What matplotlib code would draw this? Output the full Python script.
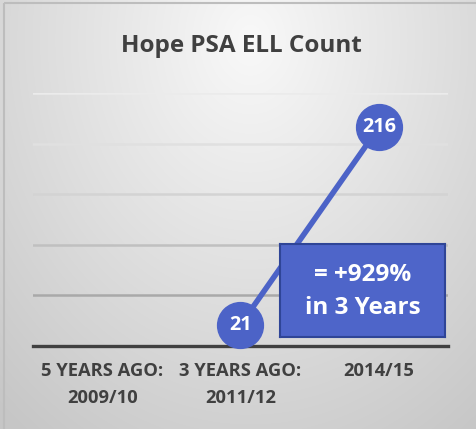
import numpy as np
import matplotlib
matplotlib.use("Agg")
import matplotlib.pyplot as plt
from matplotlib.patches import Rectangle

# ---- data ----
categories = ["5 YEARS AGO:\n2009/10", "3 YEARS AGO:\n2011/12", "2014/15"]
values = [np.nan, 21, 216]
title = "Hope PSA ELL Count"
callout = "= +929%\nin 3 Years"

plt.rcParams['font.family'] = ['Open Sans', 'DejaVu Sans']

W, H = 476, 429
fig = plt.figure(figsize=(W / 100, H / 100), dpi=100)

# background gradient
bg = fig.add_axes([0, 0, 1, 1], zorder=0)
yy, xx = np.mgrid[0:H, 0:W]
d = np.sqrt(((xx - 250) / 330.0) ** 2 + ((yy - 40) / 420.0) ** 2)
g = np.clip(0.975 - 0.17 * d, 0.78, 1.0)
img = np.dstack([g, g, g])
bg.imshow(img, extent=[0, W, H, 0], aspect='auto', interpolation='bilinear')
bg.set_xlim(0, W)
bg.set_ylim(H, 0)
bg.axis('off')
bg.add_patch(Rectangle((4, 3), W + 10, H + 10, fill=False, edgecolor='#bdbdbd', lw=1.5))

ax = fig.add_axes([33 / W, 1 - 346 / H, (448 - 33) / W, (346 - 93) / H], zorder=1)
ax.patch.set_alpha(0)
x = np.arange(len(categories))
ax.set_xlim(-0.5, len(categories) - 0.5)
ax.set_ylim(0, 250)
ax.set_yticks([50, 100, 150, 200, 250])
ax.tick_params(axis='y', left=False, labelleft=False)
ax.tick_params(axis='x', bottom=False, pad=8)
ax.set_xticks(x)
ax.set_xticklabels(categories, fontsize=13.2, fontweight='bold', color='#404040', linespacing=1.65)
for s in ['top', 'left', 'right']:
    ax.spines[s].set_visible(False)
ax.spines['bottom'].set_color('#404040')
ax.spines['bottom'].set_linewidth(2.4)

grid_colors = ['#a9a9a9', '#c0c0c0', '#d3d3d3', '#e0e0e0', '#ebebeb']
for yv, c in zip([50, 100, 150, 200, 250], grid_colors):
    ax.axhline(yv, color=c, lw=1.8, zorder=0.5)

col = '#4c63c7'
ax.plot(x, values, color=col, lw=4, marker='o', markersize=33, markerfacecolor=col,
        markeredgecolor=col, zorder=3, clip_on=False)
for xi, v in zip(x, values):
    if not np.isnan(v):
        ax.text(xi, v, f"{int(v)}", ha='center', va='center', color='white',
                fontsize=14.2, fontweight='bold', zorder=4)

fig.text(241 / W, 1 - 46 / H, title, ha='center', va='center', fontsize=17.5,
         fontweight='bold', color='#404040')

# callout box
bx = fig.add_axes([280 / W, 1 - 337 / H, (445 - 280) / W, (337 - 244) / H], zorder=5)
bx.set_xticks([]); bx.set_yticks([])
bx.set_facecolor('#4e65c9')
for s in bx.spines.values():
    s.set_color('#2f4597')
    s.set_linewidth(1.5)
bx.text(0.5, 0.49, callout, ha='center', va='center', color='white', fontsize=17.5,
        fontweight='bold', linespacing=1.5, transform=bx.transAxes)

fig.savefig('out.png', dpi=100)
